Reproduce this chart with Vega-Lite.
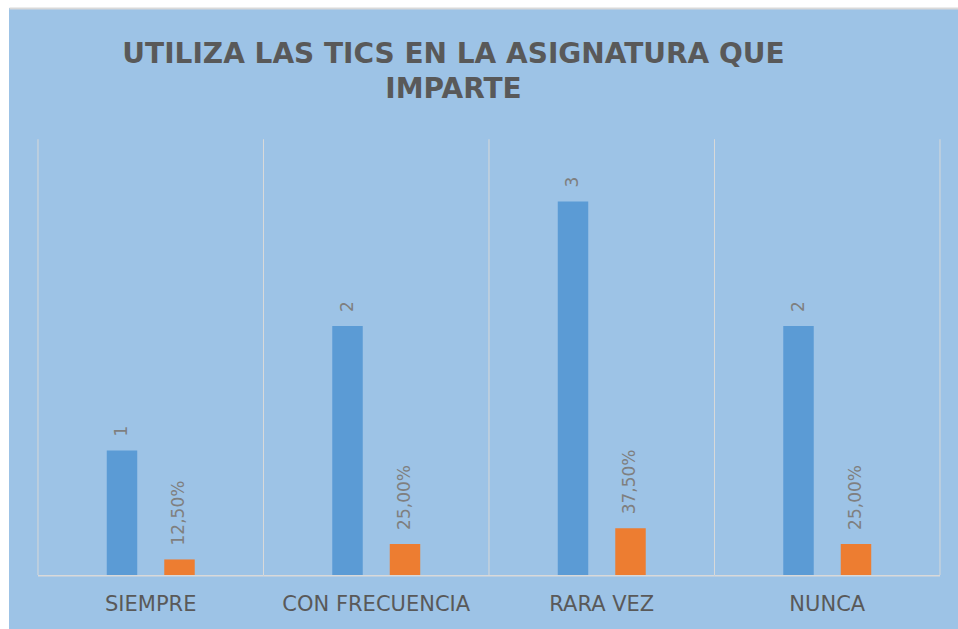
{
  "$schema": "https://vega.github.io/schema/vega-lite/v6.json",
  "width": 949,
  "height": 621,
  "autosize": {"type": "none"},
  "padding": {"left": 9, "top": 8, "right": 0, "bottom": 0},
  "background": "white",
  "title": {
    "text": ["UTILIZA LAS TICS EN LA ASIGNATURA QUE", "IMPARTE"],
    "font": "DejaVu Sans",
    "fontSize": 28,
    "fontWeight": "bold",
    "color": "#595959",
    "anchor": "middle",
    "frame": "group",
    "dx": -30,
    "offset": -118,
    "baseline": "alphabetic",
    "lineHeight": 35
  },
  "datasets": {
    "cats": [
      {"cat": "SIEMPRE"},
      {"cat": "CON FRECUENCIA"},
      {"cat": "RARA VEZ"},
      {"cat": "NUNCA"}
    ],
    "vals": [
      {"cat": "SIEMPRE", "serie": "Frecuencia", "value": 1, "label": "1"},
      {"cat": "SIEMPRE", "serie": "Porcentaje", "value": 0.125, "label": "12,50%"},
      {"cat": "CON FRECUENCIA", "serie": "Frecuencia", "value": 2, "label": "2"},
      {"cat": "CON FRECUENCIA", "serie": "Porcentaje", "value": 0.25, "label": "25,00%"},
      {"cat": "RARA VEZ", "serie": "Frecuencia", "value": 3, "label": "3"},
      {"cat": "RARA VEZ", "serie": "Porcentaje", "value": 0.375, "label": "37,50%"},
      {"cat": "NUNCA", "serie": "Frecuencia", "value": 2, "label": "2"},
      {"cat": "NUNCA", "serie": "Porcentaje", "value": 0.25, "label": "25,00%"}
    ]
  },
  "config": {"view": {"fill": "#9DC3E6", "stroke": null}},
  "resolve": {"axis": {"x": "independent"}},
  "layer": [
    {
      "data": {"name": "cats"},
      "mark": {"type": "rule", "color": "#D9D9D9", "strokeWidth": 1},
      "encoding": {
        "x": {"field": "cat", "type": "nominal", "bandPosition": 0,
          "scale": {"domain": ["SIEMPRE", "CON FRECUENCIA", "RARA VEZ", "NUNCA"], "paddingInner": 0, "paddingOuter": 0.10421, "align": 0.617},
          "axis": {"orient": "top", "labels": false, "ticks": false, "grid": false, "domain": true, "domainColor": "#D9D9D9", "domainWidth": 2, "title": null}},
        "y": {"datum": 0, "type": "quantitative", "scale": {"domain": [-0.4337, 4.5542], "nice": false, "zero": false}, "axis": null},
        "y2": {"datum": 3.5}
      }
    },
    {
      "data": {"name": "cats"},
      "transform": [{"filter": "datum.cat === 'NUNCA'"}],
      "mark": {"type": "rule", "color": "#D9D9D9", "strokeWidth": 1},
      "encoding": {
        "x": {"field": "cat", "type": "nominal", "bandPosition": 1,
          "scale": {"domain": ["SIEMPRE", "CON FRECUENCIA", "RARA VEZ", "NUNCA"], "paddingInner": 0, "paddingOuter": 0.10421, "align": 0.617},
          "axis": null},
        "y": {"datum": 0, "type": "quantitative", "scale": {"domain": [-0.4337, 4.5542], "nice": false, "zero": false}, "axis": null},
        "y2": {"datum": 3.5}
      }
    },
    {
      "data": {"name": "cats"},
      "mark": {"type": "bar", "color": "#D9D9D9"},
      "encoding": {
        "x": {"field": "cat", "type": "nominal",
          "scale": {"domain": ["SIEMPRE", "CON FRECUENCIA", "RARA VEZ", "NUNCA"], "paddingInner": 0, "paddingOuter": 0.10421, "align": 0.617},
          "axis": null},
        "y": {"datum": 0, "type": "quantitative", "scale": {"domain": [-0.4337, 4.5542], "nice": false, "zero": false}, "axis": null},
        "y2": {"datum": -0.012}
      }
    },
    {
      "data": {"name": "vals"},
      "mark": {"type": "bar"},
      "encoding": {
        "x": {"field": "cat", "type": "nominal",
          "scale": {"domain": ["SIEMPRE", "CON FRECUENCIA", "RARA VEZ", "NUNCA"], "paddingInner": 0, "paddingOuter": 0.10421, "align": 0.617},
          "axis": {"orient": "bottom", "offset": -54, "domain": false, "ticks": false, "tickSize": 0, "grid": false, "labelAngle": 0, "labelFont": "DejaVu Sans", "labelFontSize": 21, "labelColor": "#595959", "labelBaseline": "alphabetic", "labelPadding": 35, "labelLimit": 0, "labelOverlap": false, "title": null}},
        "xOffset": {"field": "serie", "type": "nominal", "scale": {"domain": ["_a", "Frecuencia", "Porcentaje", "_b"], "paddingInner": 0.47, "paddingOuter": 0.196}},
        "y": {"field": "value", "type": "quantitative", "scale": {"domain": [-0.4337, 4.5542], "nice": false, "zero": false},
          "axis": {"orient": "left", "domain": true, "domainColor": "#D9D9D9", "domainWidth": 2, "labels": false, "ticks": false, "grid": false, "title": null}},
        "color": {"field": "serie", "type": "nominal", "scale": {"domain": ["Frecuencia", "Porcentaje"], "range": ["#5B9BD5", "#ED7D31"]}, "legend": null}
      }
    },
    {
      "data": {"name": "vals"},
      "mark": {"type": "text", "angle": 270, "align": "left", "baseline": "middle", "dx": 14, "font": "DejaVu Sans", "fontSize": 17, "color": "#7F7F7F"},
      "encoding": {
        "x": {"field": "cat", "type": "nominal",
          "scale": {"domain": ["SIEMPRE", "CON FRECUENCIA", "RARA VEZ", "NUNCA"], "paddingInner": 0, "paddingOuter": 0.10421, "align": 0.617},
          "axis": null},
        "xOffset": {"field": "serie", "type": "nominal", "scale": {"domain": ["_a", "Frecuencia", "Porcentaje", "_b"], "paddingInner": 0.47, "paddingOuter": 0.196}},
        "y": {"field": "value", "type": "quantitative", "scale": {"domain": [-0.4337, 4.5542], "nice": false, "zero": false}, "axis": null},
        "text": {"field": "label"}
      }
    }
  ]
}
